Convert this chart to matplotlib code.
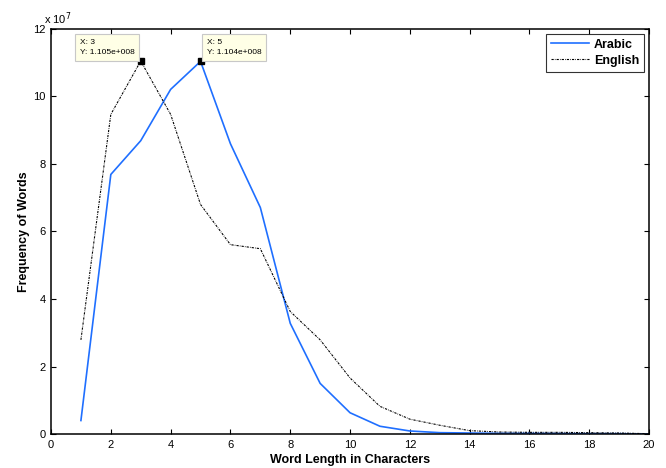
import numpy as np
import matplotlib.pyplot as plt

plt.rcParams['font.family'] = ['Liberation Sans', 'DejaVu Sans']

# word length (characters) and word counts
lengths = np.arange(1, 21)
arabic = np.array([0.40, 7.69, 8.69, 10.21, 11.04, 8.60, 6.71, 3.28, 1.50, 0.63,
                   0.23, 0.09, 0.04, 0.03, 0.02, 0.02, 0.015, 0.01, 0.01, 0.0]) * 1e7
english = np.array([2.79, 9.47, 11.05, 9.47, 6.80, 5.61, 5.49, 3.63, 2.79, 1.66,
                    0.82, 0.44, 0.26, 0.10, 0.06, 0.05, 0.05, 0.04, 0.03, 0.01]) * 1e7

scale = 1e7


def matlab_exp(v):
    # 1.105e+008 style
    mant, ex = f"{v:.3e}".split('e')
    return f"{mant}e{ex[0]}{int(ex[1:]):03d}"


fig = plt.figure(figsize=(6.66, 4.68), dpi=100)
ax = fig.add_axes([0.0766, 0.0726, 0.898, 0.8655])

ax.plot(lengths, arabic / scale, color='#1f6fff', lw=1.2, label='Arabic')
ax.plot(lengths, english / scale, color='black', lw=0.8,
        linestyle=(0, (2, 1, 0.6, 1)), label='English')

ax.set_xlim(0, 20)
ax.set_ylim(0, 12)
ax.set_xticks(np.arange(0, 21, 2))
ax.set_yticks(np.arange(0, 13, 2))
ax.tick_params(direction='in', top=True, right=True, length=3.5, width=0.8,
               labelsize=8, pad=4)
for s in ax.spines.values():
    s.set_linewidth(1.1)

ax.set_xlabel('Word Length in Characters', fontsize=9, fontweight='bold', labelpad=3)
ax.set_ylabel('Frequency of Words', fontsize=9, fontweight='bold', labelpad=2)
ax.text(-0.012, 1.014, r'x 10$^{7}$', transform=ax.transAxes, fontsize=8,
        ha='left', va='baseline')

leg = ax.legend(loc='upper right', fontsize=9, frameon=True, fancybox=False,
                edgecolor='black', handlelength=3.0, handletextpad=0.4,
                borderpad=0.4, labelspacing=0.3, borderaxespad=0,
                bbox_to_anchor=(0.9916, 0.988))
leg.get_frame().set_linewidth(0.8)
for t in leg.get_texts():
    t.set_fontweight('bold')

# data tips on the two peaks
tips = [(lengths[np.argmax(english)], english.max(), 'left'),
        (lengths[np.argmax(arabic)], arabic.max(), 'right')]
for x, y, side in tips:
    ax.plot(x, y / scale, 's', color='black', ms=5, zorder=5)
    off = (-6, 5) if side == 'left' else (6, 5)
    ax.annotate(f"X: {x}\nY: {matlab_exp(y)}", xy=(x, y / scale),
                xytext=off, textcoords='offset pixels',
                ha='right' if side == 'left' else 'left', va='bottom',
                multialignment='left', fontsize=6, linespacing=1.7,
                bbox=dict(boxstyle='square,pad=0.55', fc='#ffffe6', ec='#c8c8c8', lw=0.8),
                annotation_clip=False, zorder=6)

fig.savefig('out.png', dpi=100)
